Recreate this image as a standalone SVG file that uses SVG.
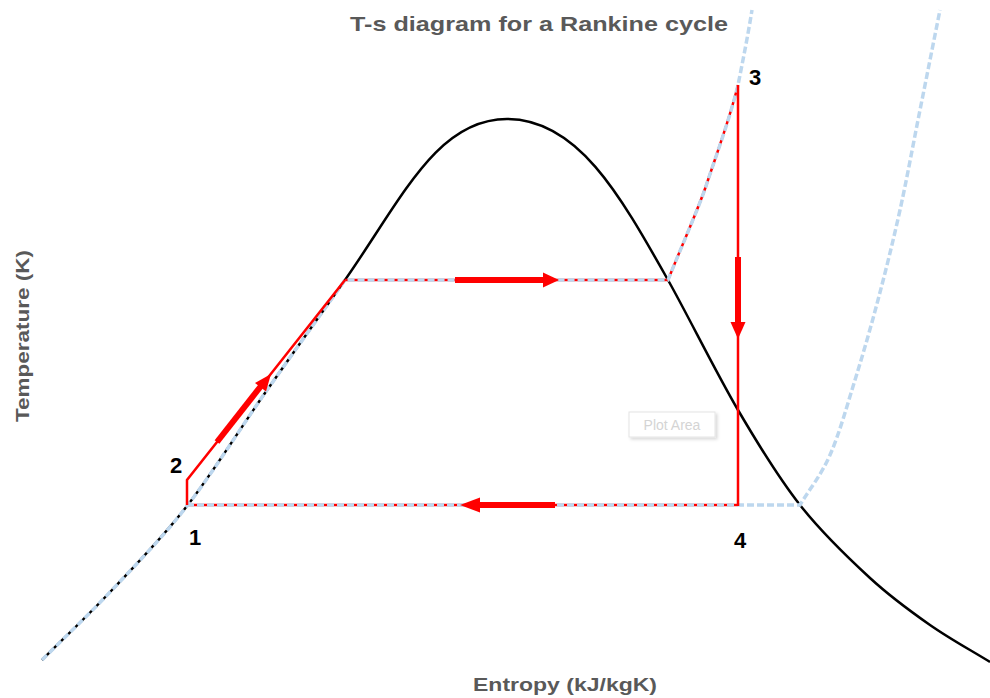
<svg xmlns="http://www.w3.org/2000/svg" width="990" height="698" viewBox="0 0 990 698">
<style>
.lbl{font-family:"Liberation Sans",Arial,sans-serif;font-weight:bold;fill:#000;font-size:22px}
.axis{font-family:"Liberation Sans",Arial,sans-serif;font-weight:bold;fill:#595959;font-size:19px}
.dome{fill:none;stroke:#000;stroke-width:2.5}
.redline{fill:none;stroke:#ff0000;stroke-width:2.5}
.iso{fill:none;stroke:#bdd7ee;stroke-width:3.5;stroke-dasharray:7 3}
.shaft{fill:none;stroke:#ff0000;stroke-width:6}
.head{fill:#ff0000}
</style>
<defs>
<filter id="sh" x="-10%" y="-20%" width="130%" height="160%">
<feDropShadow dx="2" dy="2" stdDeviation="1.5" flood-color="#000" flood-opacity="0.15"/>
</filter>
</defs>
<rect width="990" height="698" fill="#fff"/>
<g id="title">
<text x="539" y="31" text-anchor="middle" class="axis" style="font-size:21px" textLength="378" lengthAdjust="spacingAndGlyphs">T-s diagram for a Rankine cycle</text>
</g>
<g id="axis-labels">
<text x="565" y="691" text-anchor="middle" class="axis" textLength="184" lengthAdjust="spacingAndGlyphs">Entropy (kJ/kgK)</text>
<text transform="translate(29,336) rotate(-90)" text-anchor="middle" class="axis" textLength="172" lengthAdjust="spacingAndGlyphs">Temperature (K)</text>
</g>
<g id="saturation-dome">
<path class="dome" d="M42,660 C65,637 87.8,615.7 112,590 C136.2,564.3 161.5,538.8 187,506 C212.5,473.2 238.7,430.7 265,393 C291.3,355.3 322.5,312.2 345,280 C402.3,198 437,119 507,119 C577,119 619,193 668,280 C687.7,315 716,372.5 738,410 C760,447.5 778,477 800,505 C822,533 848.3,558 870,578 C891.7,598 910,611 930,625 C950,639 970,649.7 990,662"/>
</g>
<g id="cycle-under">
<path class="redline" d="M345,280 L668,280 C685,238 700,205 707,183 C718,150 730,118 738,85"/>
<path class="redline" d="M187,505 L738,505"/>
</g>
<g id="isobars">
<path class="iso" d="M42,660 C65,637 87.8,615.7 112,590 C136.2,564.3 161.5,538.8 187,506 C212.5,473.2 238.7,430.7 265,393 C291.3,355.3 322.5,312.2 345,280 L668,280 C685,238 700,205 707,183 C718,150 730,118 738,85 C743,60 748,35 752,10"/>
<path class="iso" d="M187,505 L800,505 C810,488.3 820.8,475.8 830,455 C839.2,434.2 847,405.8 855,380 C863,354.2 870.5,328.3 878,300 C885.5,271.7 893,241.7 900,210 C907,178.3 913.3,143.3 920,110 C926.7,76.7 933.3,43.3 940,10"/>
</g>
<g id="connectors">
<path class="redline" d="M187,505 L187,480 L345,280"/>
<path class="redline" d="M738,85 L738,506"/>
<path class="shaft" d="M217,442 L261,386"/>
<polygon class="head" points="271,374 266,391.6 255,383"/>
<path class="shaft" d="M455,280 L545,280"/>
<polygon class="head" points="543,272.5 543,287.5 559,280"/>
<path class="shaft" d="M555,505 L478,505"/>
<polygon class="head" points="480,497.5 480,512.5 460,505"/>
<path class="shaft" d="M738,257 L738,324"/>
<polygon class="head" points="730.5,322 745.5,322 738,339"/>
</g>
<g id="node-1"><text x="195" y="545" text-anchor="middle" class="lbl">1</text></g>
<g id="node-2"><text x="176" y="473" text-anchor="middle" class="lbl">2</text></g>
<g id="node-3"><text x="755" y="85" text-anchor="middle" class="lbl">3</text></g>
<g id="node-4"><text x="740" y="548" text-anchor="middle" class="lbl">4</text></g>
<g id="plot-area-tip">
<rect x="629" y="412" width="86" height="25" fill="#fff" stroke="#e4e4e4" stroke-width="1" filter="url(#sh)"/>
<text x="672" y="430" text-anchor="middle" font-family="'Liberation Sans',Arial,sans-serif" font-size="14" fill="#d4d4d4">Plot Area</text>
</g>
</svg>
